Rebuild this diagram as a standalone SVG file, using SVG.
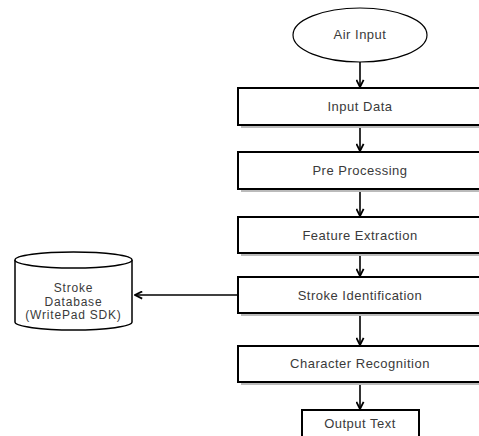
<svg xmlns="http://www.w3.org/2000/svg" width="479" height="436" viewBox="0 0 479 436">
<defs>
<style>
.box{fill:#fff;stroke:#000;stroke-width:2}
.shadow{fill:#bbb}
.lbl{font-family:"Liberation Sans",Arial,sans-serif;font-size:13px;letter-spacing:0.5px;fill:#3a3a3a;text-anchor:middle}
.db{font-size:12px;letter-spacing:0.8px}
.edge{stroke:#000;stroke-width:1.6;fill:none}
</style>
<marker id="arr" viewBox="0 0 10 10" refX="9" refY="5" markerWidth="9" markerHeight="9" markerUnits="userSpaceOnUse" orient="auto">
<path d="M1,1 L9,5 L1,9" fill="none" stroke="#000" stroke-width="2"/>
</marker>
</defs>
<rect width="479" height="436" fill="#fff"/>
<g id="connectors">
<line class="edge" x1="360" y1="62" x2="360" y2="87" marker-end="url(#arr)"/>
<line class="edge" x1="360" y1="127" x2="360" y2="151" marker-end="url(#arr)"/>
<line class="edge" x1="360" y1="191" x2="360" y2="216" marker-end="url(#arr)"/>
<line class="edge" x1="360" y1="255" x2="360" y2="276" marker-end="url(#arr)"/>
<line class="edge" x1="360" y1="315" x2="360" y2="345" marker-end="url(#arr)"/>
<line class="edge" x1="360" y1="384" x2="360" y2="409" marker-end="url(#arr)"/>
<line class="edge" x1="238" y1="295" x2="135" y2="295" marker-end="url(#arr)"/>
</g>
<g id="air-input">
<ellipse cx="360" cy="35" rx="67" ry="27" fill="#fff" stroke="#000" stroke-width="1.2"/>
<text class="lbl" x="360" y="39">Air Input</text>
</g>
<g id="input-data">
<rect class="shadow" x="241" y="91" width="244" height="37"/>
<rect class="box" x="238" y="88" width="244" height="37"/>
<text class="lbl" x="360" y="111">Input Data</text>
</g>
<g id="pre-processing">
<rect class="shadow" x="241" y="155" width="244" height="37"/>
<rect class="box" x="238" y="152" width="244" height="37"/>
<text class="lbl" x="360" y="175">Pre Processing</text>
</g>
<g id="feature-extraction">
<rect class="shadow" x="241" y="220" width="244" height="36"/>
<rect class="box" x="238" y="217" width="244" height="36"/>
<text class="lbl" x="360" y="240">Feature Extraction</text>
</g>
<g id="stroke-identification">
<rect class="shadow" x="241" y="280" width="244" height="36"/>
<rect class="box" x="238" y="277" width="244" height="36"/>
<text class="lbl" x="360" y="300">Stroke Identification</text>
</g>
<g id="character-recognition">
<rect class="shadow" x="241" y="349" width="244" height="36"/>
<rect class="box" x="238" y="346" width="244" height="36"/>
<text class="lbl" x="360" y="368">Character Recognition</text>
</g>
<g id="output-text">
<rect class="box" x="302" y="410" width="117" height="40"/>
<text class="lbl" x="360" y="428">Output Text</text>
</g>
<g id="stroke-database">
<path d="M15,260 L15,322 A58.5,8 0 0 0 132,322 L132,260" fill="#fff" stroke="#000" stroke-width="1.5"/>
<ellipse cx="73.5" cy="260" rx="58.5" ry="8" fill="#fff" stroke="#000" stroke-width="1.5"/>
<text class="lbl db" x="73.5" y="292">Stroke</text>
<text class="lbl db" x="73.5" y="305.5">Database</text>
<text class="lbl db" x="73.5" y="319">(WritePad SDK)</text>
</g>
</svg>
